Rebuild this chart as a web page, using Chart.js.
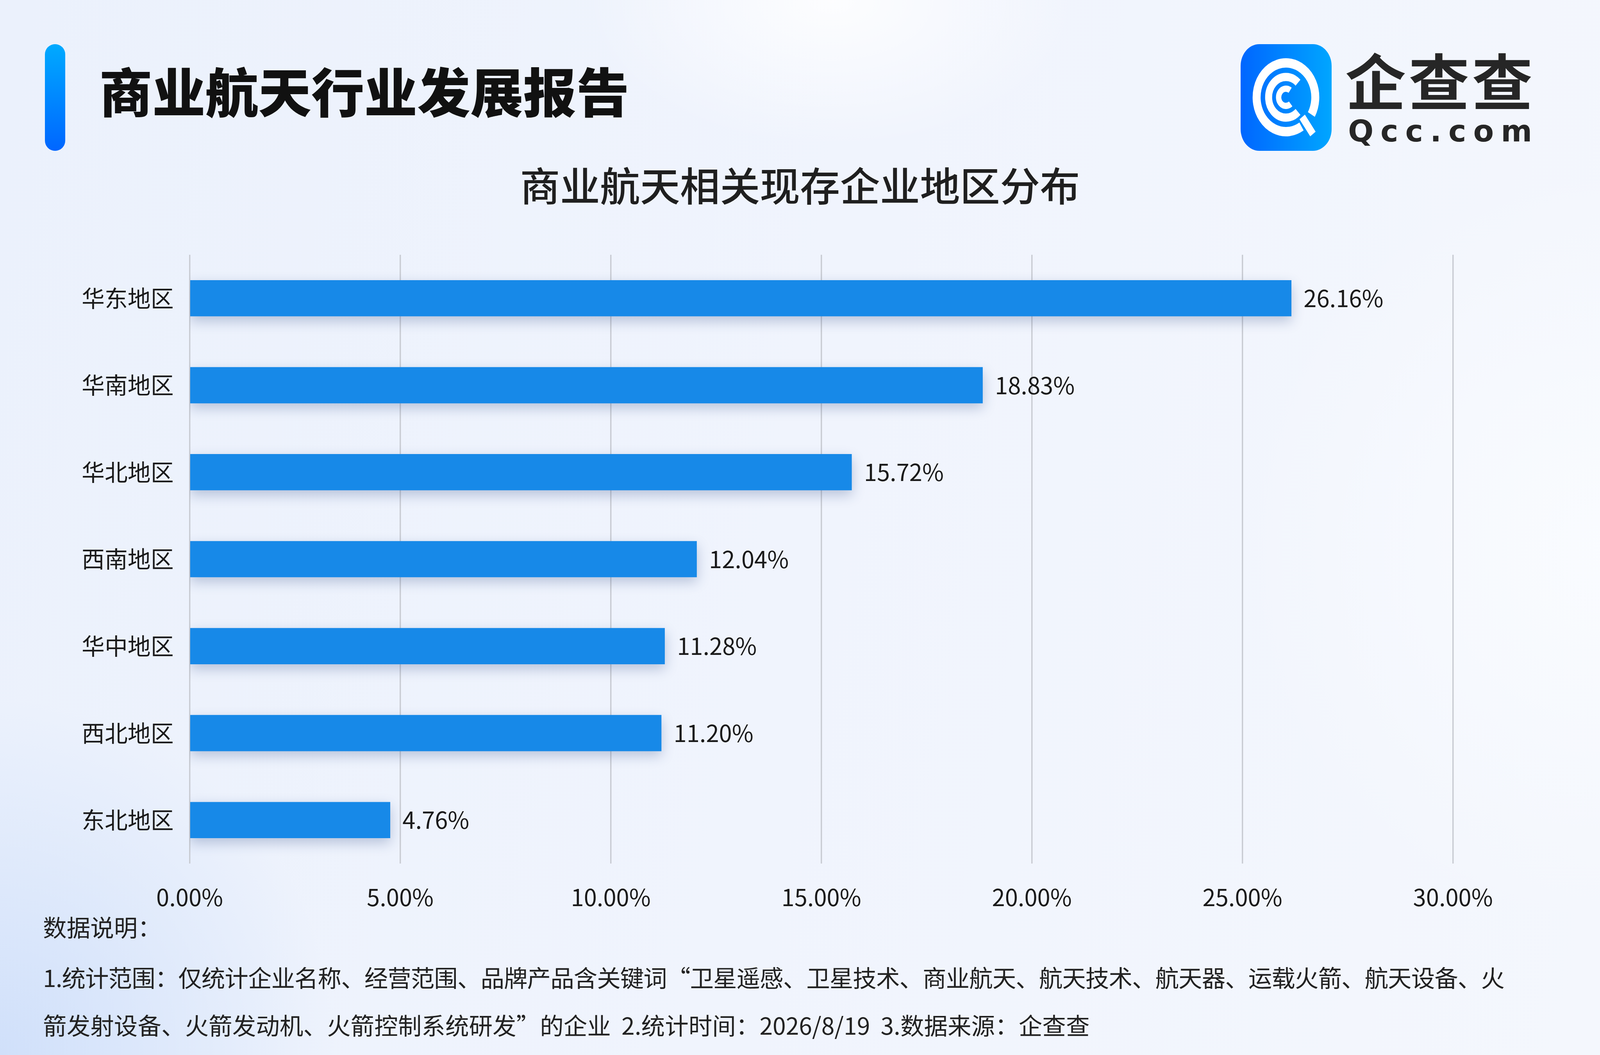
<!DOCTYPE html>
<html lang="zh-CN">
<head>
<meta charset="utf-8">
<title>商业航天相关现存企业地区分布</title>
<script src="https://cdn.jsdelivr.net/npm/chart.js@4.4.1/dist/chart.umd.min.js"></script>
<style>
  :root { --sx: 1; --sy: 1; }
  html, body { margin: 0; padding: 0; }
  body {
    width: 100vw; height: 100vh; overflow: hidden; position: relative;
    font-family: "Noto Sans CJK SC", "Noto Sans", sans-serif; color: #1a1a1a;
    background:
      radial-gradient(ellipse 22% 20% at 52% 0%, rgba(255,255,255,0.85), rgba(255,255,255,0) 70%),
      radial-gradient(ellipse 30% 48% at 0% 100%, rgba(205,222,250,0.9), rgba(205,222,250,0) 70%),
      radial-gradient(ellipse 32% 52% at 100% 52%, rgba(250,252,255,0.9), rgba(250,252,255,0) 70%),
      linear-gradient(100deg, #ebf1fc 0%, #f0f4fd 50%, #f4f7fd 100%);
  }
  #chart { position: absolute; left: 0; top: 0; }
  .accent {
    position: absolute;
    left: calc(135px * var(--sx)); top: calc(113px * var(--sy));
    width: calc(61px * var(--sx)); height: calc(273px * var(--sy));
    border-radius: calc(31px * var(--sx));
    background: linear-gradient(180deg, #00aaff 0%, #0066ff 100%);
  }
  .title {
    position: absolute; margin: 0; white-space: nowrap; line-height: 1; color: #111;
    left: calc(298px * var(--sx)); top: calc(237px * var(--sy) - 88px * var(--sx));
    font-size: calc(159px * var(--sx)); font-weight: 900;
  }
  .subtitle {
    position: absolute; left: 0; width: 100%; margin: 0; text-align: center; line-height: 1;
    top: calc(476px * var(--sy) - 67px * var(--sx));
    font-size: calc(120px * var(--sx)); font-weight: 500; color: #1f1f1f;
  }
  .logo-icon {
    position: absolute; left: calc(3722px * var(--sx)); top: calc(113px * var(--sy));
    width: calc(273px * var(--sx)); height: calc(273px * var(--sy));
  }
  .logo-cn {
    position: absolute; white-space: nowrap; line-height: 1; color: #262626;
    left: calc(4036px * var(--sx)); top: calc(210px * var(--sy) - 101px * var(--sx));
    font-size: calc(182px * var(--sx)); font-weight: 700; letter-spacing: calc(8px * var(--sx));
  }
  .logo-en {
    position: absolute; white-space: nowrap; line-height: 1; color: #262626;
    font-family: "DejaVu Sans", sans-serif; font-weight: 700;
    left: calc(4044px * var(--sx)); top: calc(336px * var(--sy) - 44px * var(--sx));
    font-size: calc(90px * var(--sx)); letter-spacing: calc(21px * var(--sx));
  }
  .note {
    position: absolute; margin: 0; line-height: 1; color: #222; white-space: pre;
    left: calc(129px * var(--sx)); font-size: calc(71px * var(--sx));
  }
  .note.tight { letter-spacing: calc(-1.2px * var(--sx)); }
</style>
</head>
<body>
<script>
  // the window may be smaller than the 4800x2700 design; lay out relative to it
  document.documentElement.style.setProperty('--sx', window.innerWidth / 4800);
  document.documentElement.style.setProperty('--sy', window.innerHeight / 2700);
</script>
<div class="accent"></div>
<h1 class="title">商业航天行业发展报告</h1>
<h2 class="subtitle">商业航天相关现存企业地区分布</h2>

<svg class="logo-icon" viewBox="0 0 273 273" preserveAspectRatio="none">
  <defs>
    <linearGradient id="lg" x1="0" y1="0" x2="1" y2="0">
      <stop offset="0" stop-color="#0066ff"/>
      <stop offset="1" stop-color="#00a6ff"/>
    </linearGradient>
  </defs>
  <rect x="0" y="0" width="273" height="273" rx="56" fill="url(#lg)"/>
  <g id="rings" fill="none" stroke="#fff"></g>
</svg>
<div class="logo-cn">企查查</div>
<div class="logo-en">Qcc.com</div>

<canvas id="chart"></canvas>

<p class="note" style="top:calc(2375px * var(--sy) - 40px * var(--sx))">数据说明：</p>
<p class="note tight" style="top:calc(2504px * var(--sy) - 40px * var(--sx))">1.统计范围：仅统计企业名称、经营范围、品牌产品含关键词“卫星遥感、卫星技术、商业航天、航天技术、航天器、运载火箭、航天设备、火</p>
<p class="note" style="top:calc(2626px * var(--sy) - 40px * var(--sx))">箭发射设备、火箭发动机、火箭控制系统研发”的企业  2.统计时间：2026/8/19  3.数据来源：企查查</p>

<script>
// chart data
const regions = ['华东地区', '华南地区', '华北地区', '西南地区', '华中地区', '西北地区', '东北地区'];
const shares = [26.16, 18.83, 15.72, 12.04, 11.28, 11.20, 4.76];
const xMax = 30;
const xStep = 5;

const FONT = '"Noto Sans CJK SC", "Noto Sans", sans-serif';
const TEXT = '#1a1a1a';

const W = window.innerWidth, H = window.innerHeight;
const sx = W / 4800, sy = H / 2700;

// logo rings (Q shape)
const rings = document.getElementById('rings');
const arc = (r, a0, a1, w) => {
  const rad = d => d * Math.PI / 180;
  const cx = 136, cy = 136;
  const x0 = cx + r * Math.cos(rad(a0)), y0 = cy + r * Math.sin(rad(a0));
  const x1 = cx + r * Math.cos(rad(a1)), y1 = cy + r * Math.sin(rad(a1));
  const big = (a1 - a0) > 180 ? 1 : 0;
  const p = document.createElementNS('http://www.w3.org/2000/svg', 'path');
  p.setAttribute('d', `M${x0} ${y0} A${r} ${r} 0 ${big} 1 ${x1} ${y1}`);
  p.setAttribute('stroke-width', w);
  rings.appendChild(p);
};
arc(88, 58, 390, 24);
arc(52, 46, 314, 21);
arc(22, 50, 305, 16);
const tail = document.createElementNS('http://www.w3.org/2000/svg', 'line');
tail.setAttribute('x1', 136 + 70 * Math.cos(0.8)); tail.setAttribute('y1', 136 + 70 * Math.sin(0.8));
tail.setAttribute('x2', 136 + 124 * Math.cos(0.86)); tail.setAttribute('y2', 136 + 124 * Math.sin(0.86));
tail.setAttribute('stroke-width', 20);
rings.appendChild(tail);

// soft shadow under the bars
const barShadow = {
  id: 'barShadow',
  beforeDatasetsDraw(chart) {
    const c = chart.ctx;
    c.save();
    c.shadowColor = 'rgba(40, 70, 130, 0.28)';
    c.shadowBlur = 30 * sy;
    c.shadowOffsetY = 12 * sy;
  },
  afterDatasetsDraw(chart) {
    chart.ctx.restore();
  }
};

// value at the end of each bar
const valueLabels = {
  id: 'valueLabels',
  afterDatasetsDraw(chart) {
    const c = chart.ctx;
    const meta = chart.getDatasetMeta(0);
    c.save();
    c.font = `${70 * sx}px ${FONT}`;
    c.fillStyle = TEXT;
    c.textAlign = 'left';
    c.textBaseline = 'middle';
    meta.data.forEach((bar, i) => {
      c.fillText(shares[i].toFixed(2) + '%', bar.x + 37 * sx, bar.y);
    });
    c.restore();
  }
};

const canvas = document.getElementById('chart');
canvas.width = W;
canvas.height = H;

new Chart(canvas.getContext('2d'), {
  type: 'bar',
  data: {
    labels: regions,
    datasets: [{
      data: shares,
      backgroundColor: '#1789e8',
      borderWidth: 0,
      barThickness: 92 * sy
    }]
  },
  options: {
    indexAxis: 'y',
    responsive: false,
    devicePixelRatio: 1,
    animation: false,
    layout: { padding: { top: 652 * sy, left: 0, right: 441 * sx, bottom: H - 2210 * sy - 130 * sy } },
    plugins: {
      legend: { display: false },
      tooltip: { enabled: false }
    },
    scales: {
      x: {
        min: 0,
        max: xMax,
        ticks: {
          stepSize: xStep,
          callback: v => v.toFixed(2) + '%',
          font: { size: 70 * sx, family: FONT },
          color: TEXT,
          padding: 50 * sy,
          maxRotation: 0
        },
        grid: { color: '#c9ccd3', lineWidth: 4 * sx, drawTicks: false },
        border: { display: false },
        afterFit: s => { s.height = 130 * sy; }
      },
      y: {
        ticks: {
          font: { size: 69 * sx, family: FONT },
          color: TEXT,
          padding: 48 * sx
        },
        grid: { display: false, drawTicks: false },
        border: { display: false },
        afterFit: s => { s.width = 569 * sx; }
      }
    }
  },
  plugins: [barShadow, valueLabels]
});
</script>
</body>
</html>
